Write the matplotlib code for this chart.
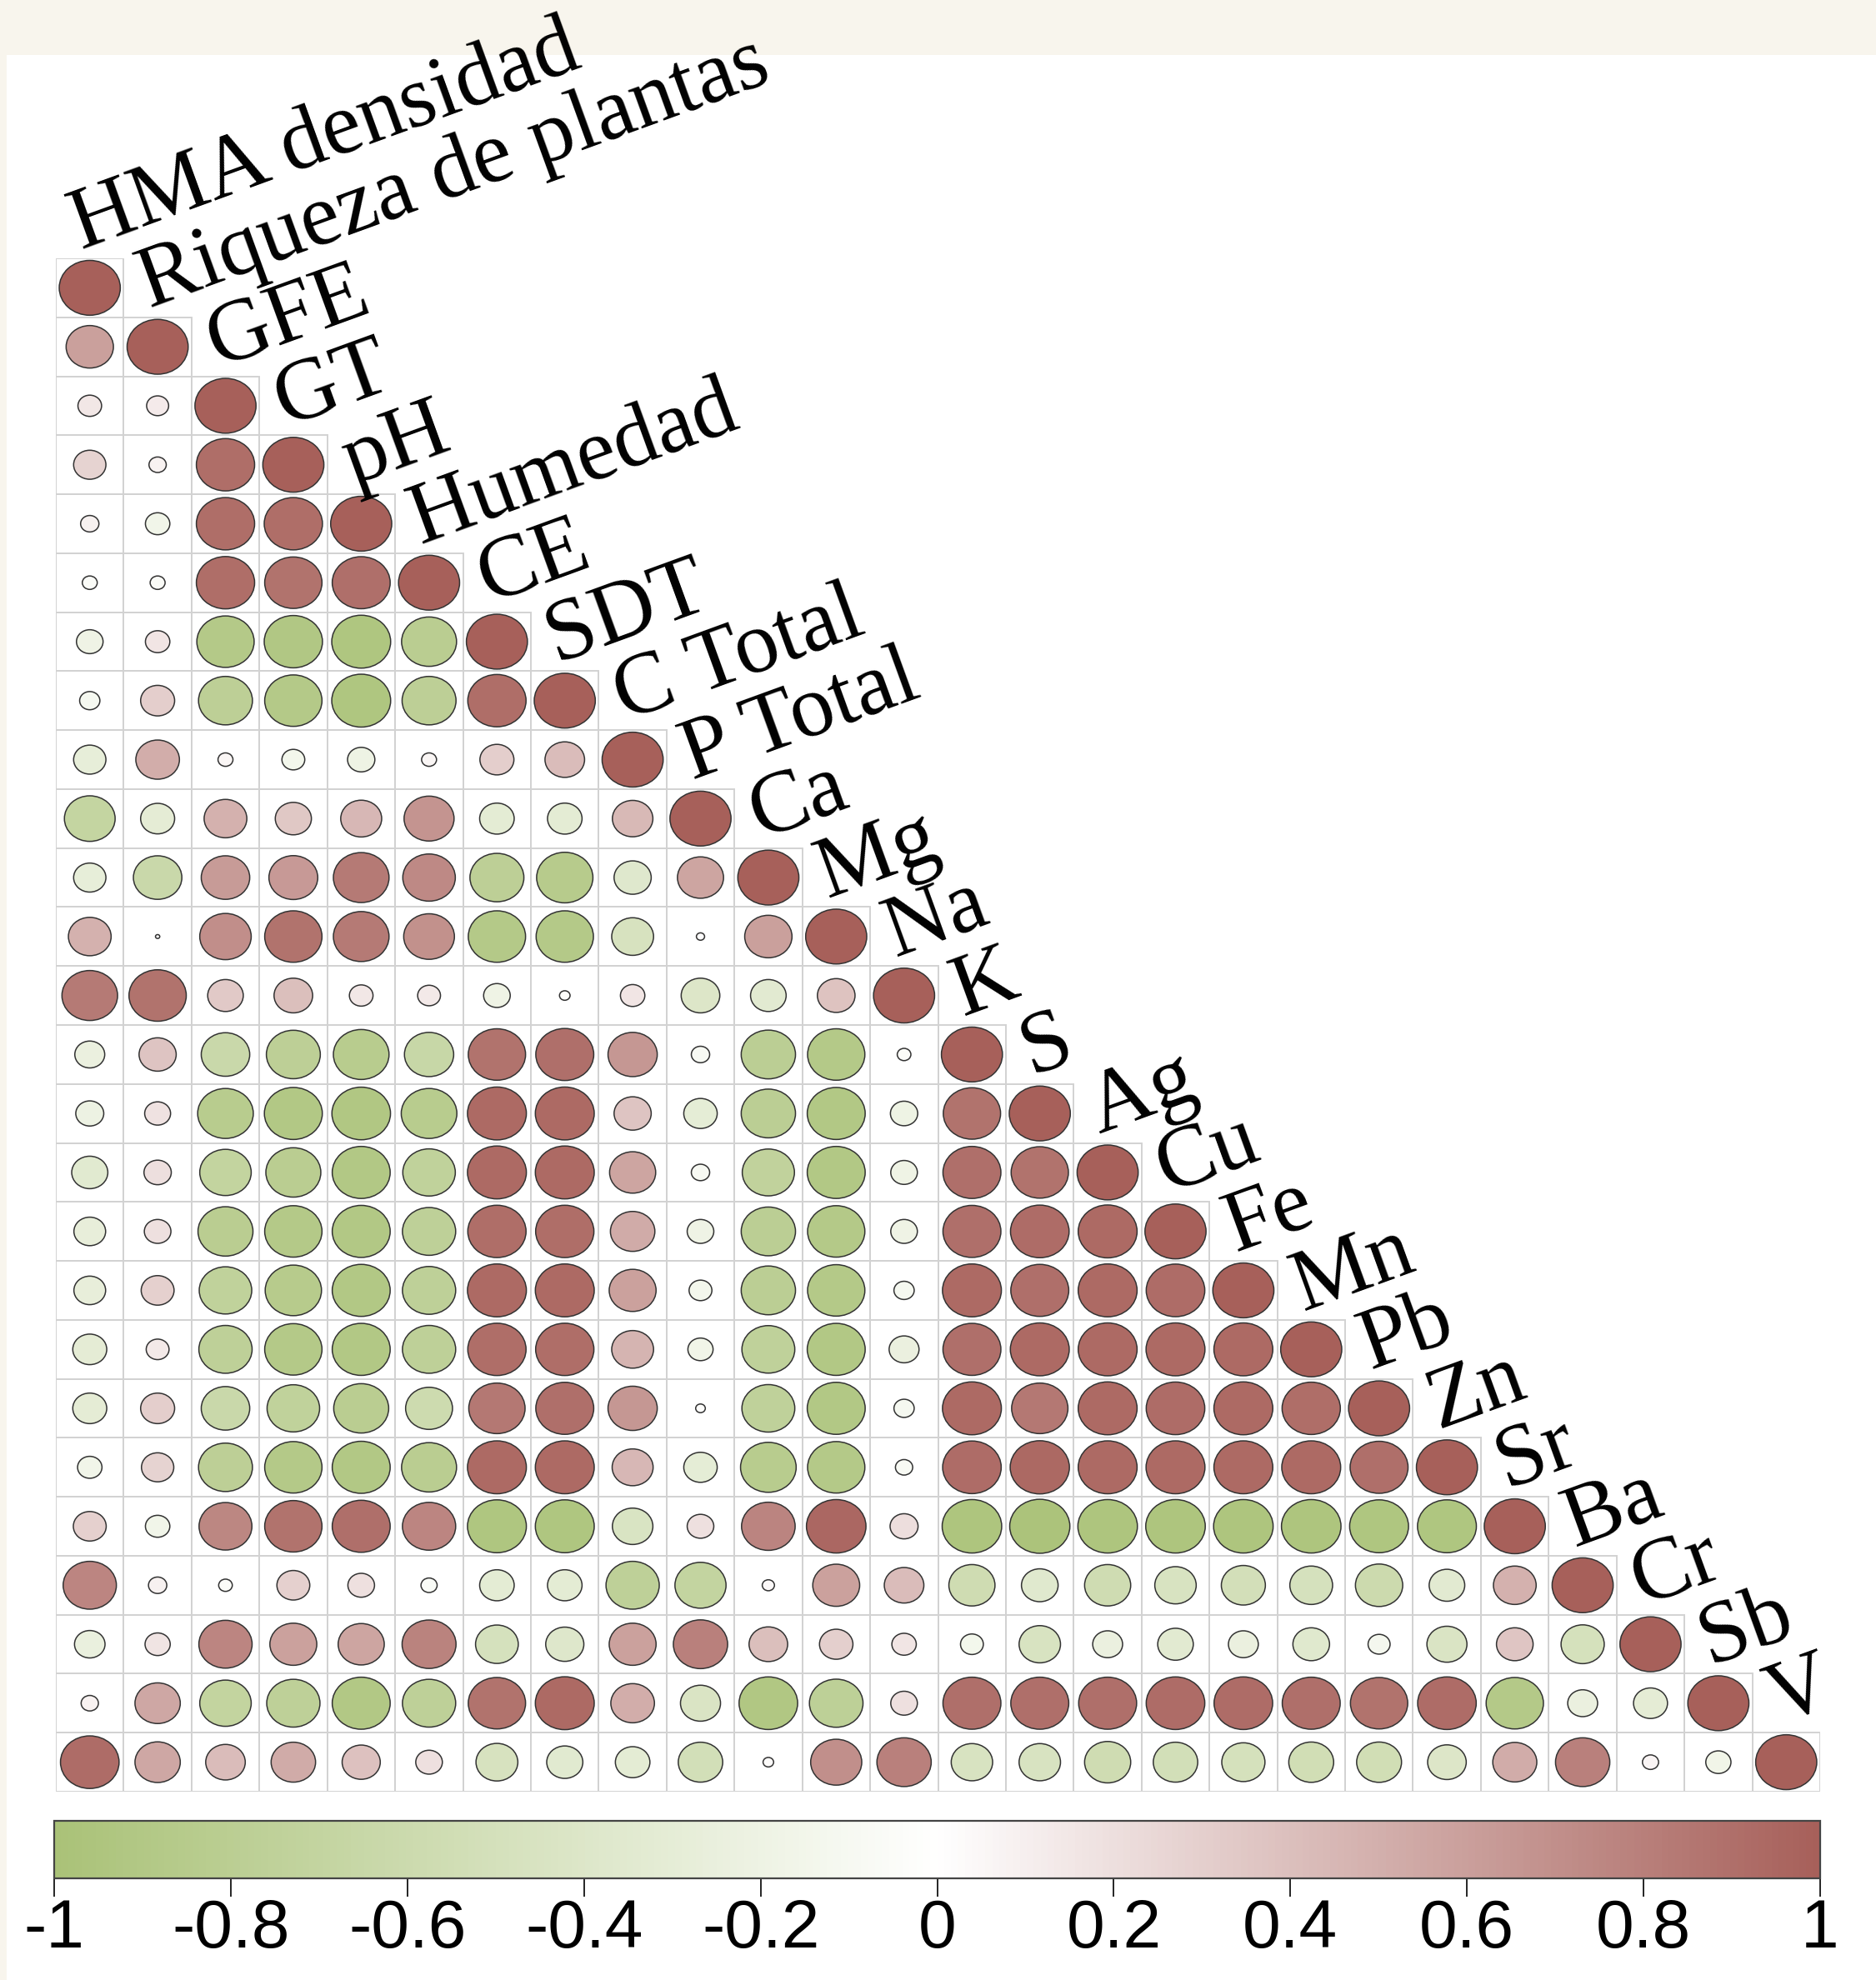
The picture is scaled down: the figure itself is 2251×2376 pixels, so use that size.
import numpy as np
import matplotlib
matplotlib.use("Agg")
import matplotlib.pyplot as plt
from matplotlib.patches import Ellipse, Rectangle
from matplotlib.colors import LinearSegmentedColormap, Normalize
import matplotlib.colorbar as mcolorbar

variables = ["HMA densidad", "Riqueza de plantas", "GFE", "GT", "pH", "Humedad",
             "CE", "SDT", "C Total", "P Total", "Ca", "Mg", "Na", "K", "S", "Ag",
             "Cu", "Fe", "Mn", "Pb", "Zn", "Sr", "Ba", "Cr", "Sb", "V"]

# lower-triangle correlation rows (row i holds columns 0..i)
row00 = [1]
row01 = [0.60, 1]
row02 = [0.15, 0.13, 1]
row03 = [0.28, 0.08, 0.91, 1]
row04 = [0.09, -0.16, 0.91, 0.91, 1]
row05 = [-0.06, -0.06, 0.91, 0.88, 0.90, 1]
row06 = [-0.19, 0.16, -0.88, -0.91, -0.93, -0.81, 1]
row07 = [-0.11, 0.31, -0.78, -0.88, -0.93, -0.78, 0.91, 1]
row08 = [-0.28, 0.51, 0.06, -0.14, -0.20, 0.06, 0.31, 0.42, 1]
row09 = [-0.69, -0.31, 0.49, 0.35, 0.45, 0.67, -0.32, -0.32, 0.44, 1]
row10 = [-0.28, -0.63, 0.63, 0.64, 0.83, 0.74, -0.78, -0.85, -0.37, 0.57, 1]
row11 = [0.49, 0.005, 0.71, 0.88, 0.83, 0.69, -0.88, -0.88, -0.47, 0.018, 0.60, 1]
row12 = [0.83, 0.88, 0.34, 0.40, 0.15, 0.14, -0.19, -0.03, 0.16, -0.40, -0.34, 0.38, 1]
row13 = [-0.24, 0.37, -0.63, -0.78, -0.83, -0.65, 0.88, 0.90, 0.65, -0.09, -0.79, -0.88, -0.05, 1]
row14 = [-0.21, 0.18, -0.83, -0.90, -0.92, -0.83, 0.93, 0.93, 0.37, -0.30, -0.79, -0.90, -0.20, 0.88, 1]
row15 = [-0.35, 0.20, -0.71, -0.81, -0.90, -0.74, 0.93, 0.93, 0.57, -0.09, -0.73, -0.90, -0.19, 0.90, 0.88, 1]
row16 = [-0.27, 0.19, -0.81, -0.88, -0.90, -0.76, 0.91, 0.91, 0.53, -0.19, -0.79, -0.88, -0.19, 0.90, 0.92, 0.93, 1]
row17 = [-0.27, 0.29, -0.74, -0.85, -0.90, -0.76, 0.93, 0.93, 0.59, -0.14, -0.79, -0.88, -0.11, 0.93, 0.90, 0.93, 0.92, 1]
row18 = [-0.31, 0.14, -0.76, -0.88, -0.90, -0.76, 0.91, 0.91, 0.47, -0.17, -0.75, -0.90, -0.24, 0.90, 0.93, 0.93, 0.93, 0.93, 1]
row19 = [-0.31, 0.31, -0.63, -0.74, -0.81, -0.59, 0.85, 0.90, 0.65, -0.025, -0.75, -0.90, -0.11, 0.93, 0.85, 0.93, 0.92, 0.93, 0.91, 1]
row20 = [-0.16, 0.28, -0.78, -0.88, -0.90, -0.81, 0.93, 0.93, 0.45, -0.30, -0.83, -0.88, -0.08, 0.92, 0.94, 0.93, 0.93, 0.93, 0.93, 0.90, 1]
row21 = [0.29, -0.16, 0.75, 0.88, 0.90, 0.76, -0.93, -0.93, -0.44, 0.19, 0.77, 0.95, 0.21, -0.95, -0.97, -0.95, -0.95, -0.95, -0.95, -0.93, -0.93, 1]
row22 = [0.76, 0.09, -0.05, 0.29, 0.19, -0.07, -0.32, -0.32, -0.76, -0.70, 0.04, 0.59, 0.42, -0.57, -0.36, -0.57, -0.46, -0.52, -0.49, -0.60, -0.34, 0.49, 1]
row23 = [-0.25, 0.17, 0.76, 0.59, 0.57, 0.78, -0.49, -0.39, 0.59, 0.79, 0.40, 0.30, 0.16, -0.14, -0.46, -0.24, -0.34, -0.24, -0.36, -0.13, -0.43, 0.36, -0.50, 1]
row24 = [0.08, 0.55, -0.71, -0.76, -0.90, -0.76, 0.88, 0.93, 0.51, -0.43, -0.92, -0.77, 0.19, 0.90, 0.90, 0.90, 0.92, 0.92, 0.90, 0.88, 0.92, -0.88, -0.24, -0.31, 1]
row25 = [0.92, 0.55, 0.42, 0.53, 0.39, 0.19, -0.47, -0.35, -0.32, -0.53, 0.03, 0.70, 0.79, -0.46, -0.46, -0.57, -0.53, -0.50, -0.54, -0.54, -0.40, 0.52, 0.79, 0.07, -0.17, 1]

rows = [row00, row01, row02, row03, row04, row05, row06, row07, row08, row09,
        row10, row11, row12, row13, row14, row15, row16, row17, row18, row19,
        row20, row21, row22, row23, row24, row25]

cbar_ticks = [-1, -0.8, -0.6, -0.4, -0.2, 0, 0.2, 0.4, 0.6, 0.8, 1]
cbar_labels = ["-1", "-0.8", "-0.6", "-0.4", "-0.2", "0", "0.2", "0.4", "0.6", "0.8", "1"]

W, H = 2251, 2376
fig = plt.figure(figsize=(W / 100, H / 100), dpi=100, facecolor="white")

# cream frame (top band and thin left strip)
cream = "#f8f5ed"
fig.patches.append(Rectangle((0, 1 - 66 / H), 1, 66 / H, transform=fig.transFigure,
                             facecolor=cream, edgecolor="none", zorder=-10))
fig.patches.append(Rectangle((0, 0), 8 / W, 1, transform=fig.transFigure,
                             facecolor=cream, edgecolor="none", zorder=-10))

cmap = LinearSegmentedColormap.from_list("gwr", ["#AAC278", "#FFFFFF", "#A7605A"])
norm = Normalize(-1, 1)

n = len(variables)
left, right = 67 / W, 2184 / W
top, bottom = 1 - 310 / H, 1 - 2150 / H
ax = fig.add_axes([left, bottom, right - left, top - bottom])
ax.set_xlim(-0.5, n - 0.5)
ax.set_ylim(n - 0.5, -0.5)
ax.axis("off")

for i, row in enumerate(rows):
    for j, r in enumerate(row):
        ax.add_patch(Rectangle((j - 0.5, i - 0.5), 1, 1, fill=False,
                               edgecolor="#d2d2d2", linewidth=1.4, zorder=1))
for i, row in enumerate(rows):
    for j, r in enumerate(row):
        s = np.sqrt(abs(r))
        ax.add_patch(Ellipse((j, i), 0.9 * s, 0.93 * s, facecolor=cmap(norm(r)),
                             edgecolor="#333333", linewidth=1.1, zorder=2))

for k, name in enumerate(variables):
    ax.text(k - 0.12, k - 0.66, name, rotation=20, rotation_mode="anchor",
            ha="left", va="baseline", fontsize=76, family="Liberation Serif",
            color="black", clip_on=False, zorder=3)

# colorbar
cax = fig.add_axes([65 / W, 1 - 2254 / H, (2184 - 65) / W, 69 / H])
cb = mcolorbar.ColorbarBase(cax, cmap=cmap, norm=norm, orientation="horizontal",
                            ticks=cbar_ticks)
cb.set_ticklabels(cbar_labels)
cb.outline.set_edgecolor("#444444")
cb.outline.set_linewidth(1.6)
cax.tick_params(axis="x", length=16, width=1.2, color="black", pad=1,
                labelsize=59)
for t in cax.get_xticklabels():
    t.set_fontfamily("Liberation Sans")

fig.savefig("out.png", dpi=100, facecolor=fig.get_facecolor())
